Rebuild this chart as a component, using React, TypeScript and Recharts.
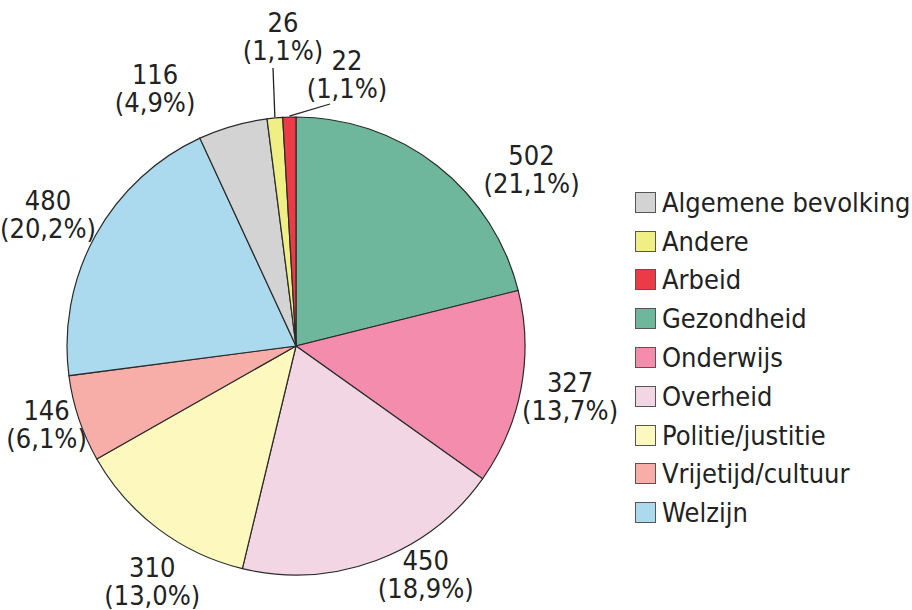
import React from "react"
import { Cell, Legend, Pie, PieChart } from "recharts"

// pie order, clockwise from 12 o'clock
const categories = [
  "Gezondheid",
  "Onderwijs",
  "Overheid",
  "Politie/justitie",
  "Vrijetijd/cultuur",
  "Welzijn",
  "Algemene bevolking",
  "Andere",
  "Arbeid",
]
const counts = [502, 327, 450, 310, 146, 480, 116, 26, 22]
const percentLabels = ["21,1%", "13,7%", "18,9%", "13,0%", "6,1%", "20,2%", "4,9%", "1,1%", "1,1%"]
const colors = [
  "#6fb79c",
  "#f38cad",
  "#f3d6e4",
  "#fdf8bd",
  "#f7aea9",
  "#abdaef",
  "#d3d3d3",
  "#efef86",
  "#ec3b47",
]

const legendOrder = [...categories].sort((a, b) => a.localeCompare(b))

const data = categories.map((name, i) => ({
  name,
  value: counts[i],
  pct: percentLabels[i],
  fill: colors[i],
}))

const FONT = "'DejaVu Sans Condensed', 'DejaVu Sans', sans-serif"
const FONT_SIZE = 27
const RADIAN = Math.PI / 180
const LABEL_R = 282

// hand placement, like the printed figure
const nudge: Record<string, [number, number]> = {
  Gezondheid: [62, 46],
  Onderwijs: [-3, -2],
  Overheid: [31, -36],
  "Politie/justitie": [26, 10],
  "Vrijetijd/cultuur": [18, -11],
  Welzijn: [-1, 5],
  "Algemene bevolking": [-63, 14],
}
const leader: Record<string, [number, number]> = {
  Andere: [-13, -310],
  Arbeid: [51, -272],
}

function renderLabel(props: any) {
  const { cx, cy, midAngle, outerRadius, payload } = props
  const name = payload.name
  const cos = Math.cos(-midAngle * RADIAN)
  const sin = Math.sin(-midAngle * RADIAN)
  let x: number
  let y: number
  let line: React.ReactNode = null
  if (leader[name]) {
    x = cx + leader[name][0]
    y = cy + leader[name][1]
    const sx = cx + outerRadius * cos
    const sy = cy + outerRadius * sin
    const ex = name === "Andere" ? x - 10 : x - 17
    const ey = name === "Andere" ? y + 32 : y + 30
    line = <line x1={sx} y1={sy - 1} x2={ex} y2={ey} stroke="#222" strokeWidth={1.3} />
  } else {
    const [dx, dy] = nudge[name] || [0, 0]
    x = cx + LABEL_R * cos + dx
    y = cy + LABEL_R * sin + dy
  }
  return (
    <g>
      {line}
      <text x={x} y={y - 14} textAnchor="middle" dominantBaseline="central" fontFamily={FONT} fontSize={FONT_SIZE} fill="#222">
        {payload.value}
      </text>
      <text x={x} y={y + 14} textAnchor="middle" dominantBaseline="central" fontFamily={FONT} fontSize={FONT_SIZE} fill="#222">
        ({payload.pct})
      </text>
    </g>
  )
}

function LegendBox() {
  return (
    <div style={{ fontFamily: FONT, fontSize: FONT_SIZE, color: "#222" }}>
      {legendOrder.map((name) => {
        const i = categories.indexOf(name)
        return (
          <div key={name} style={{ display: "flex", alignItems: "center", height: 38.8 }}>
            <span
              style={{
                display: "inline-block",
                width: 19,
                height: 19,
                background: colors[i],
                border: "1px solid #555",
                marginRight: 6,
                flex: "none",
              }}
            />
            <span style={{ whiteSpace: "nowrap" }}>{name}</span>
          </div>
        )
      })}
    </div>
  )
}

export default function App() {
  return (
    <div style={{ position: "absolute", left: 0, top: 0, background: "#fff" }}>
      <PieChart width={912} height={610} margin={{ top: 0, right: 0, bottom: 0, left: 0 }}>
        <Pie
          data={data}
          dataKey="value"
          nameKey="name"
          cx={296}
          cy={346}
          outerRadius={229}
          startAngle={90}
          endAngle={-270}
          stroke="#2a2a2a"
          strokeWidth={1.2}
          label={renderLabel}
          labelLine={false}
          isAnimationActive={false}
        >
          {data.map((entry) => (
            <Cell key={entry.name} fill={entry.fill} />
          ))}
        </Pie>
        <Legend
          layout="vertical"
          content={() => <LegendBox />}
          wrapperStyle={{ position: "absolute", left: 635, top: 183, width: 277 }}
        />
      </PieChart>
    </div>
  )
}
